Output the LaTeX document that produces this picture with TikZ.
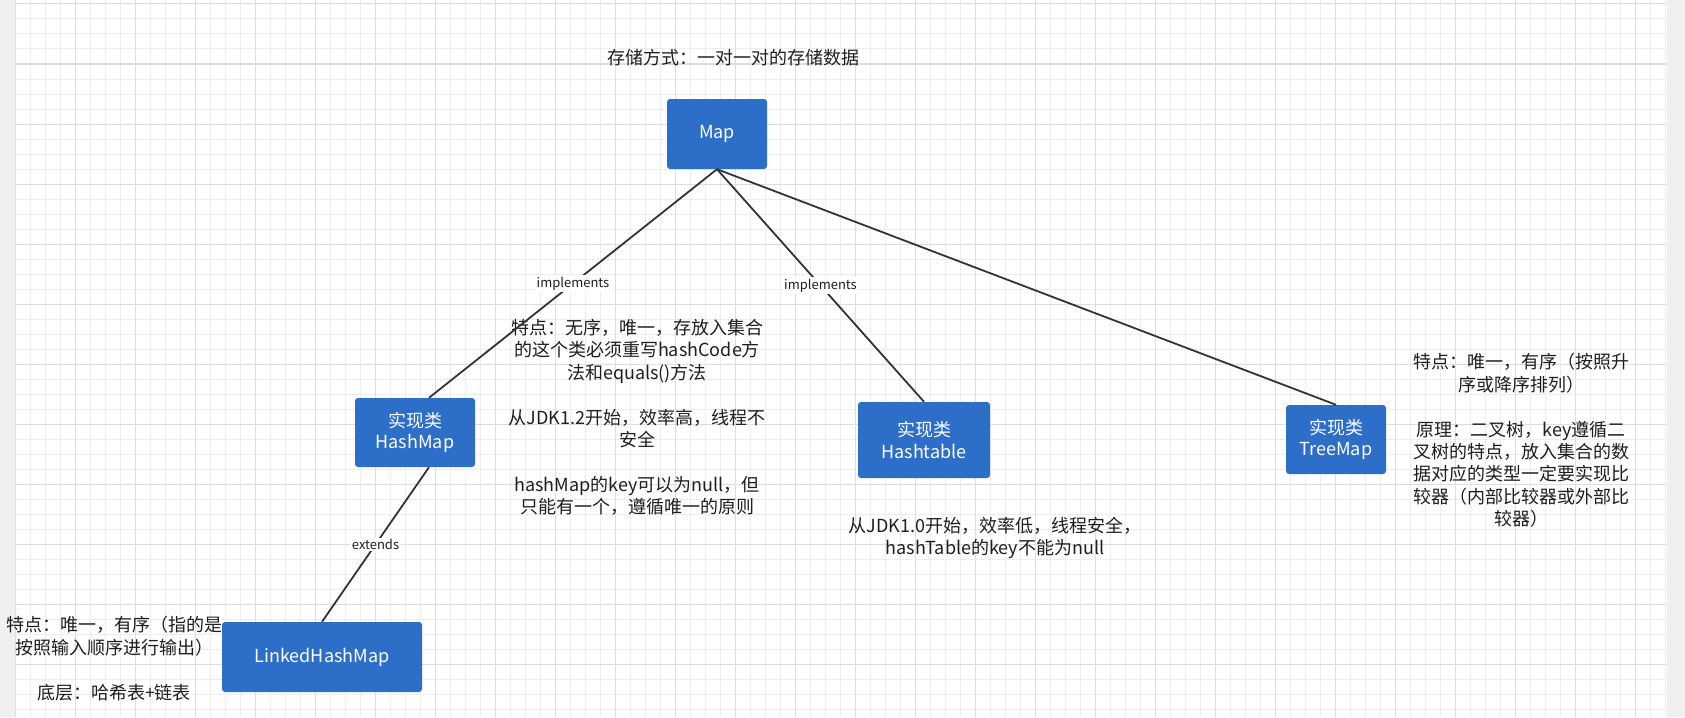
\documentclass[tikz,border=0pt]{standalone}
\usepackage{fontspec}
\setmainfont{Noto Sans CJK SC}
\usetikzlibrary{calc}
\definecolor{boxblue}{RGB}{45,110,201}
\definecolor{gridminor}{RGB}{237,237,237}
\definecolor{gridmajor}{RGB}{222,222,222}
\definecolor{stripgray}{RGB}{240,240,240}
\definecolor{edgecol}{RGB}{51,51,51}
\definecolor{textcol}{RGB}{30,30,30}
\begin{document}
\begin{tikzpicture}[x=1pt,y=-1pt,
  box/.style={fill=boxblue, rounded corners=3pt, text=white, inner sep=0pt, align=center, font=\fontsize{18}{21.5}\selectfont},
  note/.style={align=center, inner sep=0pt, font=\fontsize{18}{22.4}\selectfont, text=textcol},
  link/.style={draw=edgecol, line width=1.8pt},
  lbl/.style={fill=white, inner sep=1.5pt, font=\fontsize{13}{15}\selectfont, text=textcol}]
\useasboundingbox (0,0) rectangle (1685,717);
% background
\fill[stripgray] (0,0) rectangle (15,717);
\fill[stripgray] (1667,0) rectangle (1685,717);
\foreach \x in {15,30,...,1665} \draw[gridminor, line width=1pt] (\x,0) -- (\x,717);
\foreach \y in {4,19,...,716} \draw[gridminor, line width=1pt] (15,\y) -- (1667,\y);
\foreach \x in {15,75,...,1635} \draw[gridmajor, line width=1pt] (\x,0) -- (\x,717);
\foreach \y in {4,64,...,664} \draw[gridmajor, line width=1pt] (15,\y) -- (1667,\y);
% nodes
\node[box, minimum width=100, minimum height=70] (map) at (717,134) {Map};
\node[box, minimum width=120, minimum height=69] (hm) at (415,432.5) {实现类\\HashMap};
\node[box, minimum width=132, minimum height=76] (ht) at (924,440) {实现类\\Hashtable};
\node[box, minimum width=100, minimum height=69] (tm) at (1336,439.5) {实现类\\TreeMap};
\node[box, minimum width=200, minimum height=70] (lhm) at (322,657) {LinkedHashMap};
% notes
\node[note] (title) at (733,58) {存储方式：一对一对的存储数据};
\node[note] (hmnote) at (637,417.5) {特点：无序，唯一，存放入集合\\的这个类必须重写hashCode方\\法和equals()方法\\[22.4pt]从JDK1.2开始，效率高，线程不\\安全\\[22.4pt]hashMap的key可以为null，但\\只能有一个，遵循唯一的原则};
\node[note] (htnote) at (995,538) {从JDK1.0开始，效率低，线程安全，\\hashTable的key不能为null};
\node[note] (tmnote) at (1521,440.5) {特点：唯一，有序（按照升\\序或降序排列）\\[22.4pt]原理：二叉树，key遵循二\\叉树的特点，放入集合的数\\据对应的类型一定要实现比\\较器（内部比较器或外部比\\较器）};
\node[note] (lhmnote) at (114,658.5) {特点：唯一，有序（指的是\\按照输入顺序进行输出）\\[22.4pt]底层：哈希表+链表};
% connectors
\draw[link] (map.south) -- node[lbl]{implements} ($(hm.north)+(14,0)$);
\draw[link] (map.south) -- node[lbl]{implements} (ht.north);
\draw[link] (map.south) -- (tm.north);
\draw[link] ($(hm.south)+(14,0)$) -- node[lbl]{extends} (lhm.north);
\end{tikzpicture}
\end{document}
